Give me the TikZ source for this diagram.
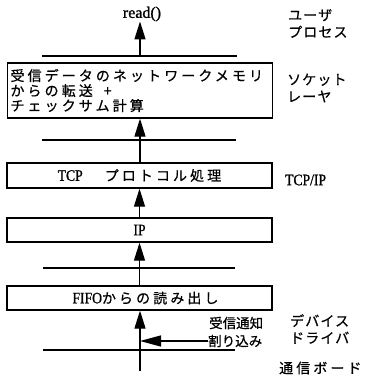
\documentclass[tikz,border=0pt]{standalone}
\usepackage{fontspec}
\usetikzlibrary{arrows.meta}
\newfontfamily\jpw[LetterSpace=22,FakeBold=0.6]{Noto Sans CJK JP}
\newfontfamily\jpm[LetterSpace=8,FakeBold=0.6]{Noto Sans CJK JP}
\newfontfamily\jpn[FakeBold=0.6]{Noto Sans CJK JP}
\newfontfamily\latf[FakeStretch=0.85,FakeBold=1]{Liberation Serif}
\newfontfamily\latr[FakeBold=1.2]{Liberation Serif}
\newcommand{\lt}[1]{{\latf\fontsize{16}{16}\selectfont #1}}
\tikzset{
  ln/.style={line width=1.3pt},
  box/.style={draw, line width=1.3pt, minimum width=265pt, inner sep=0pt},
  arr/.style={line width=1.3pt, -{Triangle[length=18pt,width=11pt]}},
  lbl/.style={anchor=west, inner sep=0pt, align=left},
}
\begin{document}
\begin{tikzpicture}[x=1pt,y=-1pt]
\useasboundingbox (0,0) rectangle (371,389);
% title
\node[inner sep=0pt, font=\latr\fontsize{16}{16}\selectfont] (read) at (142,14) {read()};
% separator lines
\coordinate (l1a) at (42,56); \coordinate (l1b) at (237,56);
\coordinate (l2a) at (42,140); \coordinate (l2b) at (236,140);
\coordinate (l3a) at (43,268); \coordinate (l3b) at (235,268);
\coordinate (l4a) at (43,350); \coordinate (l4b) at (235,350);
\draw[ln] (l1a) -- (l1b);
\draw[ln] (l2a) -- (l2b);
\draw[ln] (l3a) -- (l3b);
\draw[ln] (l4a) -- (l4b);
% boxes
\node[box, minimum height=55pt, text width=259pt, align=left,
      font=\jpw\fontsize{14}{15}\selectfont] (b1) at (140,90.5)
  {受信データのネットワークメモリ\\からの転送\hspace{11pt}+\\チェックサム計算};
\node[box, minimum height=25pt, font=\jpw\fontsize{14}{15}\selectfont] (b2) at (139.5,175.5)
  {\lt{TCP}\hspace{22pt}プロトコル処理};
\node[box, minimum height=24pt] (b3) at (139.5,230) {\lt{IP}};
\node[box, minimum height=24pt, font=\jpw\fontsize{14}{15}\selectfont] (b4) at (139.5,298)
  {\hspace{12pt}\lt{FIFO}からの読み出し};
% arrows
\coordinate (c1) at (140,56);
\coordinate (cb) at (140,371);
\coordinate (ch) at (140,341);
\draw[arr] (c1) -- (read.south -| c1);
\draw[arr] (b2.north -| b1.south) -- (b1.south);
\draw[arr] (b3.north -| b2.south) -- (b2.south);
\draw[arr] (b4.north -| b3.south) -- (b3.south);
\draw[arr] (cb) -- (b4.south -| cb);
% side labels
\node[lbl, font=\jpm\fontsize{14}{17}\selectfont] (user) at (288,23.5) {ユーザ\\プロセス};
\node[lbl, font=\jpm\fontsize{14}{17}\selectfont] (sock) at (287,88) {ソケット\\レーヤ};
\node[lbl] (tcpip) at (285,180) {\lt{TCP/IP}};
\node[lbl, font=\jpm\fontsize{14}{17}\selectfont] (dev) at (290,329) {デバイス\\ドライバ};
\node[lbl, font=\jpn\fontsize{13.5}{18}\selectfont] (recv) at (209,323) {受信通知};
\node[lbl, font=\jpn\fontsize{13.5}{18}\selectfont] (intr) at (208,341) {割り込み};
\node[lbl, font=\jpw\fontsize{14}{17}\selectfont] (board) at (279,368) {通信ボード};
\draw[line width=1.3pt, -{Triangle[length=21pt,width=11pt]}] (intr.west) -- (ch);
\end{tikzpicture}
\end{document}
